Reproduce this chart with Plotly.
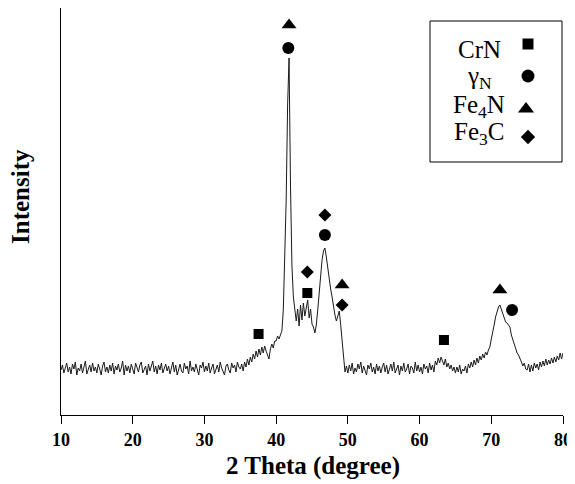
import numpy as np
import plotly.graph_objects as go

# 2-theta sampling grid (degrees), 0.2 degree steps from 10 to 80
two_theta = np.round(np.arange(10.0, 80.0001, 0.2), 1)

# Intensity (arbitrary units), one row per 5 degrees
int_10_15 = [45, 50, 42, 47, 52, 43, 48, 41, 51, 46, 53, 40, 47, 44, 51, 42, 48, 54, 41, 46, 50, 43, 52, 44, 48]
int_15_20 = [42, 51, 46, 40, 49, 53, 43, 48, 42, 50, 44, 52, 41, 49, 45, 51, 43, 47, 54, 40, 50, 44, 49, 42, 51]
int_20_25 = [46, 41, 52, 47, 43, 50, 53, 42, 46, 49, 40, 51, 44, 48, 54, 43, 49, 41, 50, 45, 52, 42, 47, 51, 44]
int_25_30 = [49, 41, 46, 53, 43, 50, 40, 47, 51, 44, 42, 52, 46, 49, 41, 54, 44, 48, 43, 51, 46, 40, 50, 47, 53]
int_30_35 = [43, 49, 44, 52, 42, 47, 51, 41, 46, 50, 43, 53, 47, 44, 40, 49, 51, 45, 42, 52, 47, 50, 43, 53, 48]
int_35_40 = [46, 51, 44, 53, 48, 56, 50, 58, 53, 61, 56, 64, 58, 66, 60, 68, 62, 69, 64, 60, 56, 66, 71, 67, 74]
int_40_45 = [74, 79, 76, 80, 84, 105, 150, 215, 310, 357, 230, 150, 118, 102, 94, 106, 89, 110, 95, 112, 99, 107, 115, 97, 106]
int_45_50 = [91, 88, 82, 90, 105, 124, 142, 155, 164, 167, 158, 146, 136, 126, 118, 108, 100, 94, 98, 104, 90, 76, 56, 43, 49]
int_50_55 = [42, 50, 44, 52, 41, 47, 43, 51, 46, 53, 42, 49, 44, 40, 50, 46, 52, 43, 48, 41, 51, 44, 49, 42, 48]
int_55_60 = [52, 43, 50, 41, 46, 51, 44, 53, 42, 47, 50, 40, 49, 44, 52, 43, 46, 51, 41, 49, 47, 42, 53, 44, 50]
int_60_65 = [43, 48, 41, 51, 46, 49, 42, 52, 45, 50, 43, 54, 50, 57, 52, 58, 54, 50, 56, 48, 52, 46, 50, 44, 48]
int_65_70 = [42, 48, 43, 50, 41, 46, 44, 49, 42, 51, 47, 53, 48, 55, 50, 57, 52, 59, 55, 61, 57, 63, 60, 65, 68]
int_70_75 = [76, 82, 90, 98, 104, 108, 110, 106, 100, 96, 93, 92, 90, 88, 80, 75, 70, 66, 62, 60, 57, 53, 49, 52, 46]
int_75_80 = [45, 51, 43, 50, 44, 52, 47, 51, 45, 53, 48, 54, 49, 56, 50, 55, 51, 57, 52, 58, 53, 59, 55, 62, 56]
int_80 = [62]

intensity = (int_10_15 + int_15_20 + int_20_25 + int_25_30 + int_30_35 + int_35_40 +
             int_40_45 + int_45_50 + int_50_55 + int_55_60 + int_60_65 + int_65_70 +
             int_70_75 + int_75_80 + int_80)

# Phase markers (2-theta, height)
crn_x = [37.55, 44.35, 63.4]
crn_y = [81, 122, 75]
gamma_x = [41.7, 46.8, 72.9]
gamma_y = [367, 180, 105]
fe4n_x = [41.8, 49.2, 71.2]
fe4n_y = [390, 130, 125]
fe3c_x = [44.35, 46.8, 49.2]
fe3c_y = [143, 200, 110]

x_ticks = [10, 20, 30, 40, 50, 60, 70, 80]
legend_labels = ["CrN", "γ<sub>N</sub>", "Fe<sub>4</sub>N", "Fe<sub>3</sub>C"]
legend_symbols = ["square", "circle", "triangle-up", "diamond"]
legend_sizes = [11, 13, 14, 11]

SERIF = "Liberation Serif, Times New Roman, serif"

# The page body has an 8px margin; the figure is sized to fill the rest of the window.
OFF = 8
W, H = 575 - OFF, 484 - OFF
# plot-area geometry in window pixels
L, R, T, B = 61, 563, 8, 415
X0, X1 = 10, 80
Y0, Y1 = 0, 407


def px_x(px):
    return (px - L) / (R - L)


def px_y(py):
    return (B - py) / (B - T)


def data_x(px):
    return X0 + (px - L) / (R - L) * (X1 - X0)


def data_y(py):
    return Y0 + (B - py) / (B - T) * (Y1 - Y0)


fig = go.Figure()
fig.add_trace(go.Scatter(x=two_theta, y=intensity, mode="lines",
                         line=dict(color="#1a1a1a", width=1), showlegend=False,
                         hoverinfo="skip"))

for xs, ys, sym, sz in [(crn_x, crn_y, "square", 10), (gamma_x, gamma_y, "circle", 12),
                        (fe4n_x, fe4n_y, "triangle-up", 13), (fe3c_x, fe3c_y, "diamond", 10)]:
    fig.add_trace(go.Scatter(x=xs, y=ys, mode="markers",
                             marker=dict(symbol=sym, size=sz, color="black"),
                             showlegend=False))

# Legend box
leg_text_y = [49, 77, 106, 133]
leg_mark_y = [44, 76, 109, 137]
leg_mark_x = [528, 528, 526, 528]
for mx, my, sym, sz in zip(leg_mark_x, leg_mark_y, legend_symbols, legend_sizes):
    fig.add_trace(go.Scatter(x=[data_x(mx)], y=[data_y(my)], mode="markers",
                             marker=dict(symbol=sym, size=sz, color="black",
                                         line=dict(width=0)),
                             showlegend=False))
for lab, ty in zip(legend_labels, leg_text_y):
    fig.add_annotation(x=px_x(479), y=px_y(ty), xref="paper", yref="paper", text=lab,
                       showarrow=False, font=dict(family=SERIF, size=25, color="black"),
                       xanchor="center", yanchor="middle")
fig.add_shape(type="rect", xref="paper", yref="paper",
              x0=px_x(430), x1=px_x(562), y0=px_y(21), y1=px_y(162),
              line=dict(color="black", width=1))

# Axis titles
fig.add_annotation(x=px_x(313), y=px_y(466), xref="paper", yref="paper",
                   text="<b>2 Theta (degree)</b>",
                   showarrow=False, font=dict(family=SERIF, size=25, color="black"),
                   xanchor="center", yanchor="middle")
fig.add_annotation(x=px_x(20), y=px_y(197), xref="paper", yref="paper",
                   text="<b>Intensity</b>",
                   showarrow=False, textangle=-90,
                   font=dict(family=SERIF, size=25, color="black"),
                   xanchor="center", yanchor="middle")

fig.update_layout(
    width=W, height=H,
    margin=dict(l=L - OFF, r=575 - R, t=T - OFF, b=484 - B, autoexpand=False),
    paper_bgcolor="white", plot_bgcolor="white",
    xaxis=dict(range=[X0, X1], tickvals=x_ticks, ticks="outside", ticklen=8,
               tickcolor="black", showline=True, linecolor="black", linewidth=1,
               showgrid=False, zeroline=False, automargin=False,
               tickfont=dict(family=SERIF, size=18, color="black", weight="bold")),
    yaxis=dict(range=[Y0, Y1], showticklabels=False, ticks="", showline=True,
               linecolor="black", linewidth=1, showgrid=False, zeroline=False,
               automargin=False),
)

fig.write_html("out.html")
